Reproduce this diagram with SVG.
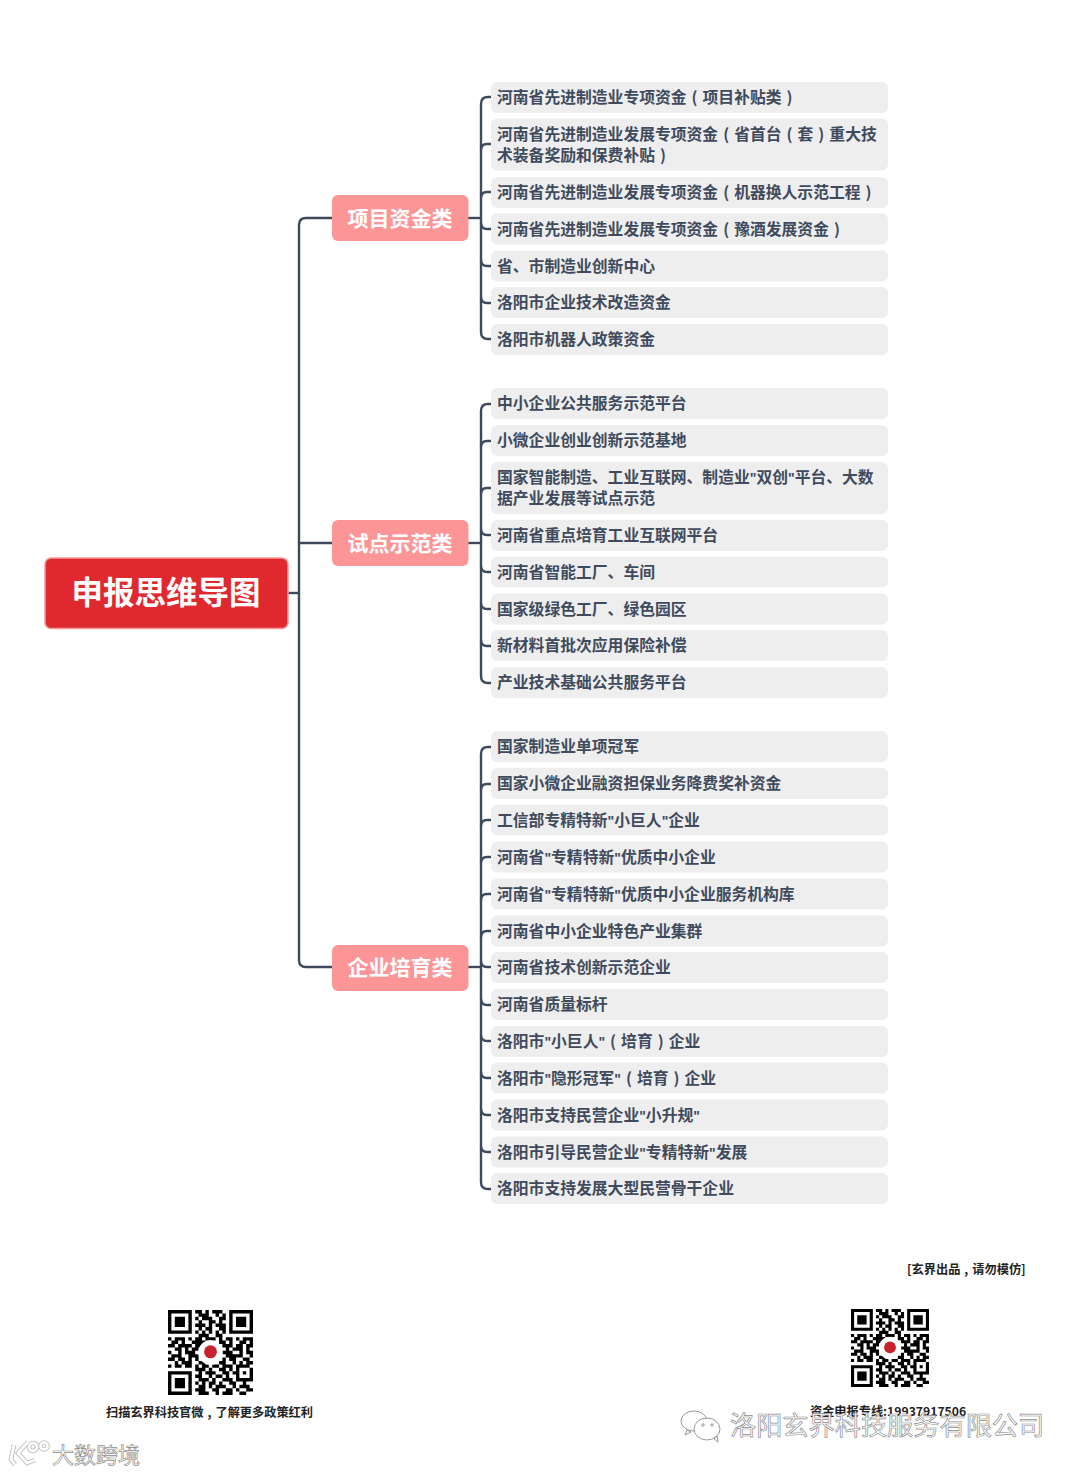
<svg xmlns="http://www.w3.org/2000/svg" width="1080" height="1474" viewBox="0 0 1080 1474">
<style>
text{font-family:"Noto Sans CJK SC","Liberation Sans",sans-serif;font-weight:700}
.item rect{fill:#eeeeef}
.item text{font-size:15.8px;fill:#3f4b5c}
.q{font-family:"Liberation Sans",sans-serif;font-size:14px}
.branch rect{fill:#fc9696}
.branch text{font-size:21px;fill:#fff;text-anchor:middle}
.conn path{fill:none;stroke:#3d4a5c;stroke-width:2.4}
.cap{font-size:12.2px;fill:#222}
.wm{fill:#fff;stroke:#8f8f8f;stroke-width:.7;font-weight:400}
</style>
<defs>
<g id="qr">
<path fill="none" stroke="#000" stroke-width="1" d="M8 .5h2M11 .5h1M13 .5h3M9 1.5h3M14 1.5h1M16 1.5h1M8 2.5h1M10 2.5h3M15 2.5h2M9 3.5h1M12 3.5h2M15 3.5h1M8 4.5h3M12 4.5h1M14 4.5h3M9 5.5h1M11 5.5h2M15 5.5h2M8 6.5h1M10 6.5h1M12 6.5h1M14 6.5h1M16 6.5h1M9 7.5h3M14 7.5h2M0 8.5h1M2 8.5h3M6 8.5h1M8 8.5h2M11 8.5h3M15 8.5h1M17 8.5h2M20 8.5h1M22 8.5h3M1 9.5h2M4 9.5h1M7 9.5h3M10 9.5h1M15 9.5h2M18 9.5h1M21 9.5h2M24 9.5h1M0 10.5h2M3 10.5h3M6 10.5h1M8 10.5h2M16 10.5h3M20 10.5h2M23 10.5h2M2 11.5h2M5 11.5h1M7 11.5h2M17 11.5h1M19 11.5h3M23 11.5h1M0 12.5h1M3 12.5h1M5 12.5h3M16 12.5h2M18 12.5h1M21 12.5h1M23 12.5h2M1 13.5h3M6 13.5h3M17 13.5h3M20 13.5h2M24 13.5h1M0 14.5h2M3 14.5h2M6 14.5h1M8 14.5h1M16 14.5h1M18 14.5h2M22 14.5h2M2 15.5h1M4 15.5h3M9 15.5h2M15 15.5h2M19 15.5h1M21 15.5h1M23 15.5h2M0 16.5h1M2 16.5h2M5 16.5h2M8 16.5h1M10 16.5h2M13 16.5h2M16 16.5h3M20 16.5h4M8 17.5h3M12 17.5h1M15 17.5h2M18 17.5h1M20 17.5h1M24 17.5h1M9 18.5h1M11 18.5h3M16 18.5h2M19 18.5h2M22 18.5h1M24 18.5h1M8 19.5h2M12 19.5h1M14 19.5h2M17 19.5h1M20 19.5h1M24 19.5h1M9 20.5h3M13 20.5h1M16 20.5h3M20 20.5h5M8 21.5h1M10 21.5h1M12 21.5h2M15 21.5h1M18 21.5h2M22 21.5h1M9 22.5h2M12 22.5h1M14 22.5h3M19 22.5h1M21 22.5h3M8 23.5h3M13 23.5h2M17 23.5h2M20 23.5h1M23 23.5h2M9 24.5h2M11 24.5h1M14 24.5h1M16 24.5h3M21 24.5h2"/>
<g id="fp"><path fill="#000" fill-rule="evenodd" d="M0 0h7v7H0zM1 1v5h5V1zM2 2h3v3H2z"/></g>
<use href="#fp" x="18"/><use href="#fp" y="18"/>
<circle cx="12.5" cy="12.5" r="3.600" fill="#fff"/><circle cx="12.5" cy="12.3" r="1.900" fill="#c8232c"/>
</g>
</defs>
<rect width="1080" height="1474" fill="#fff"/>
<g class="conn" id="connectors">
<path d="M288 593H299"/>
<path d="M332 218H306Q299 218 299 225V960Q299 967 306 967H332"/>
<path d="M299 543H332"/>
<path d="M468 218H481"/>
<path d="M491 97H488Q481 97 481 104V332Q481 339 488 339H491"/>
<path d="M481 150Q481 144 487 144H491M481 198Q481 192 487 192H491M481 223Q481 229 487 229H491M481 260Q481 266 487 266H491M481 297Q481 303 487 303H491"/>
<path d="M468 543H481"/>
<path d="M491 404H488Q481 404 481 411V676Q481 683 488 683H491"/>
<path d="M481 447Q481 441 487 441H491M481 494Q481 488 487 488H491M481 529Q481 535 487 535H491M481 566Q481 572 487 572H491M481 603Q481 609 487 609H491M481 640Q481 646 487 646H491"/>
<path d="M468 967H481"/>
<path d="M491 747H488Q481 747 481 754V1182Q481 1189 488 1189H491"/>
<path d="M481 790Q481 784 487 784H491M481 826Q481 820 487 820H491M481 863Q481 857 487 857H491M481 900Q481 894 487 894H491M481 937Q481 931 487 931H491M481 961Q481 967 487 967H491M481 999Q481 1005 487 1005H491M481 1035Q481 1041 487 1041H491M481 1072Q481 1078 487 1078H491M481 1109Q481 1115 487 1115H491M481 1146Q481 1152 487 1152H491"/>
</g>
<g id="root"><rect x="45" y="558" width="243" height="70.500" rx="6" fill="#e0292e" stroke="#f49a9a" stroke-width="1.500"/><text x="166" y="604" font-size="31.500" fill="#fff" text-anchor="middle">申报思维导图</text></g>
<g class="branch" id="b1"><rect x="332" y="195" width="136.500" height="46" rx="6"/><text x="400" y="226">项目资金类</text></g>
<g class="branch" id="b2"><rect x="332" y="520" width="136.500" height="46" rx="6"/><text x="400" y="551">试点示范类</text></g>
<g class="branch" id="b3"><rect x="332" y="945" width="136.500" height="46" rx="6"/><text x="400" y="975">企业培育类</text></g>
<g class="item" id="i1"><rect x="491" y="82" width="397" height="31" rx="6"/><text x="497" y="103">河南省先进制造业专项资金<tspan dx="5">(</tspan><tspan dx="5">项目补贴类</tspan><tspan dx="5">)</tspan></text></g>
<g class="item" id="i2"><rect x="491" y="118.500" width="397" height="52" rx="6"/><text x="497" y="140">河南省先进制造业发展专项资金<tspan dx="5">(</tspan><tspan dx="5">省首台</tspan><tspan dx="5">(</tspan><tspan dx="5">套</tspan><tspan dx="5">)</tspan><tspan dx="5">重大技</tspan></text><text x="497" y="161">术装备奖励和保费补贴<tspan dx="5">)</tspan></text></g>
<g class="item" id="i3"><rect x="491" y="177" width="397" height="31" rx="6"/><text x="497" y="198">河南省先进制造业发展专项资金<tspan dx="5">(</tspan><tspan dx="5">机器换人示范工程</tspan><tspan dx="5">)</tspan></text></g>
<g class="item" id="i4"><rect x="491" y="213.500" width="397" height="31" rx="6"/><text x="497" y="235">河南省先进制造业发展专项资金<tspan dx="5">(</tspan><tspan dx="5">豫酒发展资金</tspan><tspan dx="5">)</tspan></text></g>
<g class="item" id="i5"><rect x="491" y="250.500" width="397" height="31" rx="6"/><text x="497" y="272">省、市制造业创新中心</text></g>
<g class="item" id="i6"><rect x="491" y="287" width="397" height="31" rx="6"/><text x="497" y="308">洛阳市企业技术改造资金</text></g>
<g class="item" id="i7"><rect x="491" y="324" width="397" height="31" rx="6"/><text x="497" y="345">洛阳市机器人政策资金</text></g>
<g class="item" id="i8"><rect x="491" y="388" width="397" height="31" rx="6"/><text x="497" y="409">中小企业公共服务示范平台</text></g>
<g class="item" id="i9"><rect x="491" y="425" width="397" height="31" rx="6"/><text x="497" y="446">小微企业创业创新示范基地</text></g>
<g class="item" id="i10"><rect x="491" y="462" width="397" height="52" rx="6"/><text x="497" y="483">国家智能制造、工业互联网、制造业<tspan class="q">"</tspan>双创<tspan class="q">"</tspan>平台、大数</text><text x="497" y="504">据产业发展等试点示范</text></g>
<g class="item" id="i11"><rect x="491" y="520" width="397" height="31" rx="6"/><text x="497" y="541">河南省重点培育工业互联网平台</text></g>
<g class="item" id="i12"><rect x="491" y="556.500" width="397" height="31" rx="6"/><text x="497" y="578">河南省智能工厂、车间</text></g>
<g class="item" id="i13"><rect x="491" y="593.500" width="397" height="31" rx="6"/><text x="497" y="614.500">国家级绿色工厂、绿色园区</text></g>
<g class="item" id="i14"><rect x="491" y="630" width="397" height="31" rx="6"/><text x="497" y="651">新材料首批次应用保险补偿</text></g>
<g class="item" id="i15"><rect x="491" y="667" width="397" height="31" rx="6"/><text x="497" y="688">产业技术基础公共服务平台</text></g>
<g class="item" id="i16"><rect x="491" y="731" width="397" height="31" rx="6"/><text x="497" y="752">国家制造业单项冠军</text></g>
<g class="item" id="i17"><rect x="491" y="768" width="397" height="31" rx="6"/><text x="497" y="789">国家小微企业融资担保业务降费奖补资金</text></g>
<g class="item" id="i18"><rect x="491" y="804.500" width="397" height="31" rx="6"/><text x="497" y="826">工信部专精特新<tspan class="q">"</tspan>小巨人<tspan class="q">"</tspan>企业</text></g>
<g class="item" id="i19"><rect x="491" y="841.500" width="397" height="31" rx="6"/><text x="497" y="863">河南省<tspan class="q">"</tspan>专精特新<tspan class="q">"</tspan>优质中小企业</text></g>
<g class="item" id="i20"><rect x="491" y="878.500" width="397" height="31" rx="6"/><text x="497" y="900">河南省<tspan class="q">"</tspan>专精特新<tspan class="q">"</tspan>优质中小企业服务机构库</text></g>
<g class="item" id="i21"><rect x="491" y="915.500" width="397" height="31" rx="6"/><text x="497" y="936.500">河南省中小企业特色产业集群</text></g>
<g class="item" id="i22"><rect x="491" y="952" width="397" height="31" rx="6"/><text x="497" y="973">河南省技术创新示范企业</text></g>
<g class="item" id="i23"><rect x="491" y="989" width="397" height="31" rx="6"/><text x="497" y="1010">河南省质量标杆</text></g>
<g class="item" id="i24"><rect x="491" y="1026" width="397" height="31" rx="6"/><text x="497" y="1047">洛阳市<tspan class="q">"</tspan>小巨人<tspan class="q">"</tspan><tspan dx="5">(</tspan><tspan dx="5">培育</tspan><tspan dx="5">)</tspan><tspan dx="5">企业</tspan></text></g>
<g class="item" id="i25"><rect x="491" y="1062.500" width="397" height="31" rx="6"/><text x="497" y="1084">洛阳市<tspan class="q">"</tspan>隐形冠军<tspan class="q">"</tspan><tspan dx="5">(</tspan><tspan dx="5">培育</tspan><tspan dx="5">)</tspan><tspan dx="5">企业</tspan></text></g>
<g class="item" id="i26"><rect x="491" y="1099.500" width="397" height="31" rx="6"/><text x="497" y="1121">洛阳市支持民营企业<tspan class="q">"</tspan>小升规<tspan class="q">"</tspan></text></g>
<g class="item" id="i27"><rect x="491" y="1136.500" width="397" height="31" rx="6"/><text x="497" y="1158">洛阳市引导民营企业<tspan class="q">"</tspan>专精特新<tspan class="q">"</tspan>发展</text></g>
<g class="item" id="i28"><rect x="491" y="1173" width="397" height="31" rx="6"/><text x="497" y="1194">洛阳市支持发展大型民营骨干企业</text></g>
<g id="footer">
<text class="cap" x="907" y="1274">[玄界出品<tspan dx="4">,</tspan><tspan dx="4">请勿模仿]</tspan></text>
<use href="#qr" transform="translate(168 1310) scale(3.400)"/>
<text class="cap" x="106" y="1417">扫描玄界科技官微<tspan dx="4">,</tspan><tspan dx="4">了解更多政策红利</tspan></text>
<use href="#qr" transform="translate(851 1309) scale(3.120)"/>
<text class="cap" x="810" y="1416">资金申报专线:19937917506</text>
</g>
<g id="watermarks">
<text class="wm" x="730" y="1435" font-size="26.200">洛阳玄界科技服务有限公司</text>
<g fill="#fff" stroke="#8f8f8f" stroke-width=".9">
<ellipse cx="694" cy="1421" rx="13" ry="10"/><path d="M687 1430l-2 5 6-3z"/>
<ellipse cx="707" cy="1429" rx="13" ry="11"/><path d="M714 1439l4 3-1-6z"/>
<circle cx="703" cy="1425" r="1.200"/><circle cx="712" cy="1425" r="1.200"/>
</g>
<text class="wm" x="52" y="1463" font-size="22">大数跨境</text>
<g fill="none" stroke="#b8b8b8" stroke-width="4.500">
<path d="M14 1445l-3 14 4 6M28 1442l-10 11 9 10 8-3"/><circle cx="33" cy="1447" r="4"/><circle cx="44" cy="1446" r="3.500"/>
</g>
<g fill="none" stroke="#fff" stroke-width="2.800">
<path d="M14 1445l-3 14 4 6M28 1442l-10 11 9 10 8-3"/><circle cx="33" cy="1447" r="4"/><circle cx="44" cy="1446" r="3.500"/>
</g>
</g>
</svg>
